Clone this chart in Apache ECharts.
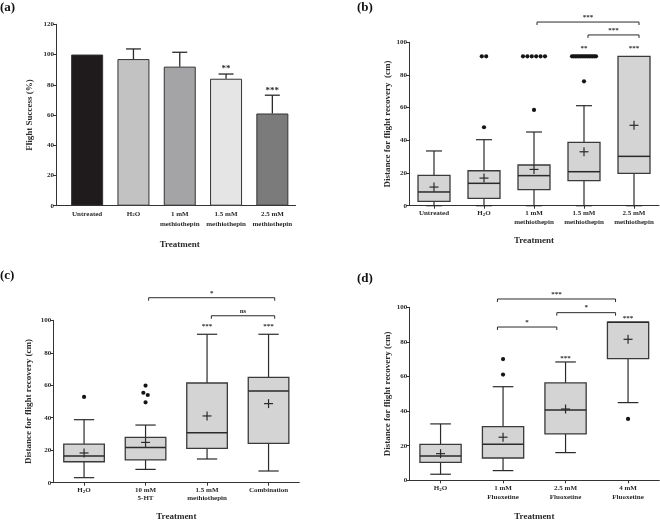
<!DOCTYPE html>
<html><head><meta charset="utf-8">
<script src="https://cdn.jsdelivr.net/npm/echarts@6/dist/echarts.min.js"></script>
<style>html,body{margin:0;padding:0;background:#fff}#c{width:660px;height:520px}</style>
</head><body><div id="c"></div>
<script>
// ---------------- DATA ----------------
// (a) flight success bars
const catsA = ['Untreated', 'H{s|2}O', '1 mM\nmethiothepin', '1.5 mM\nmethiothepin', '2.5 mM\nmethiothepin'];
const successA = [100, 97, 92, 84, 61];
const errA = [0, 6.7, 9.5, 3.1, 12.1];
const sigA = ['', '', '', '**', '***'];

// (b) distance, methiothepin doses
const catsB = ['Untreated', 'H{s|2}O', '1 mM\nmethiothepin', '1.5 mM\nmethiothepin', '2.5 mM\nmethiothepin'];
const minB = [0, 0, 0, 0, 0];
const q1B = [2.7, 4.5, 9.8, 15.3, 19.8];
const medB = [8.4, 13.7, 18.4, 20.8, 30.2];
const q3B = [18.6, 21.4, 24.9, 38.8, 91.4];
const maxB = [33.5, 40.4, 45.1, 61.2, 91.4];
const meanB = [11.4, 16.9, 22.2, 33.0, 49.2];
const outB = [
  [],
  [48.0, 91.4, 91.4],
  [58.6, 91.4, 91.4, 91.4, 91.4, 91.4, 91.4],
  [76.1, 91.4, 91.4, 91.4, 91.4, 91.4, 91.4, 91.4, 91.4, 91.4, 91.4, 91.4, 91.4, 91.4, 91.4, 91.4],
  []
];
const sigB = ['', '', '', '**', '***'];
const brFromB = [2, 3];
const brToB = [4, 4];
const brLevelB = [112.4, 104.5];
const brLabelB = ['***', '***'];

// (c) distance, 5-HT / methiothepin / combination
const catsC = ['H{s|2}O', '10 mM\n5-HT', '1.5 mM\nmethiothepin', 'Combination'];
const minC = [3.1, 8.2, 14.6, 7.2];
const q1C = [12.9, 14.0, 21.1, 24.2];
const medC = [16.4, 21.6, 30.8, 56.5];
const q3C = [23.8, 27.9, 61.4, 64.9];
const maxC = [38.8, 35.5, 91.4, 91.4];
const meanC = [18.3, 24.8, 41.1, 48.7];
const outC = [[52.8], [59.8, 55.4, 54.0, 49.5], [], []];
const sigC = ['', '', '***', '***'];
const brFromC = [1, 2];
const brToC = [3, 3];
const brLevelC = [113.9, 102.8];
const brLabelC = ['*', 'ns'];

// (d) distance, fluoxetine doses
const catsD = ['H{s|2}O', '1 mM\nFluoxetine', '2.5 mM\nFluoxetine', '4 mM\nFluoxetine'];
const minD = [3.5, 5.6, 16.0, 44.9];
const q1D = [10.4, 12.9, 26.8, 70.3];
const medD = [14.1, 20.8, 40.7, 91.4];
const q3D = [20.8, 31.0, 56.3, 91.4];
const maxD = [32.6, 54.1, 68.4, 91.4];
const meanD = [15.4, 24.9, 41.2, 81.5];
const outD = [[], [70.1, 61.1], [], [35.5]];
const sigD = ['', '', '***', '***'];
const brFromD = [1, 2, 1];
const brToD = [3, 3, 2];
const brLevelD = [104.8, 96.9, 88.6];
const brLabelD = ['***', '*', '*'];

// ---------------- STYLE ----------------
const FONT = 'Liberation Serif';
const INK = '#2a2a2a';
const barColorsA = ['#1f1b1c', '#c2c2c2', '#a4a4a7', '#e5e5e5', '#7b7b7b'];
const boxFill = '#d4d4d4';
// bracket end nudges (fraction of band) to mimic the hand-placed brackets
const nudgeB = [[0.06, 0.1], [0.08, 0.1]];
const nudgeC = [[0.05, 0.1], [0.07, 0.1]];
const nudgeD = [[-0.09, -0.2], [-0.14, -0.2], [-0.09, -0.14]];

// ---------------- HELPERS ----------------
function ln(x1, y1, x2, y2, w) {
  return { type: 'line', shape: { x1, y1, x2, y2 }, style: { stroke: INK, lineWidth: w || 1.2 } };
}
function txt(x, y, s, size) {
  return { type: 'text', style: { x, y, text: s, fill: INK, font: 'bold ' + size + 'px "' + FONT + '"', align: 'center', verticalAlign: 'bottom' } };
}
const richSub = { s: { fontFamily: FONT, fontWeight: 'bold', fontSize: 5, lineHeight: 5, padding: [4, 0, 0, 0], verticalAlign: 'top', color: INK } };

function xAx(gi, cats, gap, lh, ticks) {
  return {
    type: 'category', gridIndex: gi, data: cats, boundaryGap: true,
    axisLine: { show: true, lineStyle: { color: '#333', width: 1 } },
    axisTick: { show: ticks, alignWithLabel: true, length: 3, lineStyle: { color: '#333' } },
    axisLabel: { fontFamily: FONT, fontWeight: 'bold', fontSize: 7, color: INK, margin: 3, lineHeight: lh, interval: 0, rich: richSub },
    splitLine: { show: false },
    name: 'Treatment', nameLocation: 'middle', nameGap: gap,
    nameTextStyle: { fontFamily: FONT, fontWeight: 'bold', fontSize: 9, color: INK }
  };
}
function yAx(gi, max, name, gap, off) {
  return {
    type: 'value', gridIndex: gi, min: 0, max: max, interval: 20, offset: off || 0,
    axisLine: { show: true, lineStyle: { color: '#333', width: 1 } },
    axisTick: { show: true, length: 3, lineStyle: { color: '#333' } },
    axisLabel: { fontFamily: FONT, fontWeight: 'bold', fontSize: 7, color: INK, margin: 2 },
    splitLine: { show: false },
    name: name, nameLocation: 'middle', nameGap: gap,
    nameTextStyle: { fontFamily: FONT, fontWeight: 'bold', fontSize: 9, color: INK }
  };
}

function boxData(mins, q1, med, q3, maxs, means) {
  return mins.map((v, i) => [i, v, q1[i], med[i], q3[i], maxs[i], means[i]]);
}
function tops(maxs, outs) {
  return maxs.map((m, i) => Math.max(m, ...(outs[i].length ? outs[i] : [m])));
}
function makeBoxRender(frac, sigs, topVals, sigOff) {
  return function (params, api) {
    const i = api.value(0);
    const band = api.size([1, 0])[0];
    const w = band * frac;
    const x = api.coord([i, 0])[0];
    const Y = k => api.coord([i, api.value(k)])[1];
    const yMin = Y(1), yQ1 = Y(2), yMed = Y(3), yQ3 = Y(4), yMax = Y(5), yMean = Y(6);
    const cw = w / 2;
    const ch = [];
    if (yMax < yQ3 - 0.5) { ch.push(ln(x, yQ3, x, yMax)); ch.push(ln(x - cw / 2, yMax, x + cw / 2, yMax)); }
    if (yMin > yQ1 + 0.5) { ch.push(ln(x, yQ1, x, yMin)); ch.push(ln(x - cw / 2, yMin, x + cw / 2, yMin)); }
    ch.push({ type: 'rect', shape: { x: x - w / 2, y: yQ3, width: w, height: yQ1 - yQ3 }, style: { fill: boxFill, stroke: '#3a3a3a', lineWidth: 1.3 } });
    ch.push(ln(x - w / 2, yMed, x + w / 2, yMed, 1.5));
    ch.push(ln(x - 4.5, yMean, x + 4.5, yMean, 1.2));
    ch.push(ln(x, yMean - 4.5, x, yMean + 4.5, 1.2));
    const s = sigs[params.dataIndex];
    if (s) {
      const yt = api.coord([i, topVals[params.dataIndex]])[1];
      ch.push(txt(x, yt - sigOff, s, 7));
    }
    return { type: 'group', children: ch };
  };
}
// outliers: cluster near-identical values and spread them sideways
function outlierData(outs) {
  const res = [];
  outs.forEach((vals, i) => {
    const sorted = vals.slice().sort((a, b) => b - a);
    const clusters = [];
    sorted.forEach(v => {
      const c = clusters.find(c => Math.abs(c[0] - v) <= 2);
      if (c) c.push(v); else clusters.push([v]);
    });
    clusters.forEach(c => c.forEach((v, k) => res.push([i, v, k, c.length])));
  });
  return res;
}
function outlierRender(params, api) {
  const p = api.coord([api.value(0), api.value(1)]);
  const k = api.value(2), n = api.value(3);
  const sp = n > 1 ? Math.min(4.4, 24 / (n - 1)) : 0;
  const x = p[0] + (k - (n - 1) / 2) * sp;
  return { type: 'circle', shape: { cx: x, cy: p[1], r: 2.1 }, style: { fill: '#151515' } };
}
function bracketData(from, to, lvl, nudge) {
  return from.map((f, i) => [f, to[i], lvl[i], nudge[i][0], nudge[i][1]]);
}
function makeBracketRender(labels) {
  return function (params, api) {
    const band = api.size([1, 0])[0];
    const yv = api.value(2);
    const p1 = api.coord([api.value(0), yv]);
    const p2 = api.coord([api.value(1), yv]);
    const x1 = p1[0] + api.value(3) * band, x2 = p2[0] + api.value(4) * band, y = p1[1];
    return {
      type: 'group', children: [
        { type: 'polyline', shape: { points: [[x1, y + 3], [x1, y], [x2, y], [x2, y + 3]] }, style: { stroke: INK, lineWidth: 1, fill: 'none' } },
        txt((x1 + x2) / 2, y - 1.5, labels[params.dataIndex], 7)
      ]
    };
  };
}
function errRender(params, api) {
  const i = api.value(0);
  const p0 = api.coord([i, api.value(1)]);
  const p1 = api.coord([i, api.value(2)]);
  const ch = [];
  if (api.value(2) > api.value(1)) {
    ch.push(ln(p0[0], p0[1], p1[0], p1[1], 1.3));
    ch.push(ln(p1[0] - 7.5, p1[1], p1[0] + 7.5, p1[1], 1.3));
  }
  const s = sigA[params.dataIndex];
  if (s) ch.push(txt(p1[0], p1[1] - 0.5, s, 9));
  return { type: 'group', children: ch };
}

function boxSeries(gi, data, frac, sigs, topVals, sigOff) {
  return { type: 'custom', xAxisIndex: gi, yAxisIndex: gi, clip: false, silent: true,
    encode: { x: 0, y: [1, 2, 3, 4, 5] }, data: data, renderItem: makeBoxRender(frac, sigs, topVals, sigOff) };
}
function outSeries(gi, outs) {
  return { type: 'custom', xAxisIndex: gi, yAxisIndex: gi, clip: false, silent: true, z: 5,
    encode: { x: 0, y: 1 }, data: outlierData(outs), renderItem: outlierRender };
}
function brSeries(gi, data, labels) {
  return { type: 'custom', xAxisIndex: gi, yAxisIndex: gi, clip: false, silent: true,
    encode: { x: 0, y: 2 }, data: data, renderItem: makeBracketRender(labels) };
}

const topB = tops(maxB, outB), topC = tops(maxC, outC), topD = tops(maxD, outD);

const option = {
  animation: false,
  backgroundColor: '#fff',
  textStyle: { fontFamily: FONT },
  grid: [
    { left: 64, top: 24.3, width: 231.5, height: 181.4, containLabel: false, outerBoundsMode: 'none' },
    { left: 409, top: 42.3, width: 250, height: 163.4, containLabel: false, outerBoundsMode: 'none' },
    { left: 53.3, top: 320.3, width: 246, height: 162.4, containLabel: false, outerBoundsMode: 'none' },
    { left: 409.3, top: 307.3, width: 250, height: 173, containLabel: false, outerBoundsMode: 'none' },
    // frame-only grid so panel (a)'s baseline reaches its offset y axis
    { left: 56, top: 24.3, width: 239.5, height: 181.4, containLabel: false, outerBoundsMode: 'none' }
  ],
  xAxis: [
    xAx(0, catsA, 34, 10, false),
    xAx(1, catsB, 30, 9, true),
    xAx(2, catsC, 29, 8, true),
    xAx(3, catsD, 32, 9, true),
    { type: 'value', gridIndex: 4, min: 0, max: 1, axisLine: { show: true, onZero: false, lineStyle: { color: '#333', width: 1 } },
      axisTick: { show: false }, axisLabel: { show: false }, splitLine: { show: false } }
  ],
  yAxis: [
    yAx(0, 120, 'Flight Success (%)', 22, 8),
    yAx(1, 100, 'Distance for flight recovery  (cm)', 17),
    yAx(2, 100, 'Distance for flight recovery (cm)', 20),
    yAx(3, 100, 'Distance for flight recovery (cm)', 17),
    { type: 'value', gridIndex: 4, min: 0, max: 1, show: false }
  ],
  graphic: [
    { type: 'text', left: 0, top: 1, style: { text: '(a)', font: 'bold 13px "' + FONT + '"', fill: '#111' } },
    { type: 'text', left: 357, top: 1, style: { text: '(b)', font: 'bold 13px "' + FONT + '"', fill: '#111' } },
    { type: 'text', left: 0, top: 269, style: { text: '(c)', font: 'bold 13px "' + FONT + '"', fill: '#111' } },
    { type: 'text', left: 357, top: 272, style: { text: '(d)', font: 'bold 13px "' + FONT + '"', fill: '#111' } }
  ],
  series: [
    { type: 'bar', xAxisIndex: 0, yAxisIndex: 0, barWidth: 32, silent: true,
      data: successA.map((v, i) => ({ value: v, itemStyle: { color: barColorsA[i], borderColor: '#333', borderWidth: 1 } })) },
    { type: 'custom', xAxisIndex: 0, yAxisIndex: 0, clip: false, silent: true, encode: { x: 0, y: [1, 2] },
      data: successA.map((v, i) => [i, v, v + errA[i]]), renderItem: errRender },

    boxSeries(1, boxData(minB, q1B, medB, q3B, maxB, meanB), 0.64, sigB, topB, 5),
    outSeries(1, outB),
    brSeries(1, bracketData(brFromB, brToB, brLevelB, nudgeB), brLabelB),

    boxSeries(2, boxData(minC, q1C, medC, q3C, maxC, meanC), 0.66, sigC, topC, 4.3),
    outSeries(2, outC),
    brSeries(2, bracketData(brFromC, brToC, brLevelC, nudgeC), brLabelC),

    boxSeries(3, boxData(minD, q1D, medD, q3D, maxD, meanD), 0.66, sigD, topD, 0.5),
    outSeries(3, outD),
    brSeries(3, bracketData(brFromD, brToD, brLevelD, nudgeD), brLabelD)
  ]
};
const chart = echarts.init(document.getElementById('c'), null, { renderer: 'canvas' });
chart.setOption(option);
</script></body></html>
